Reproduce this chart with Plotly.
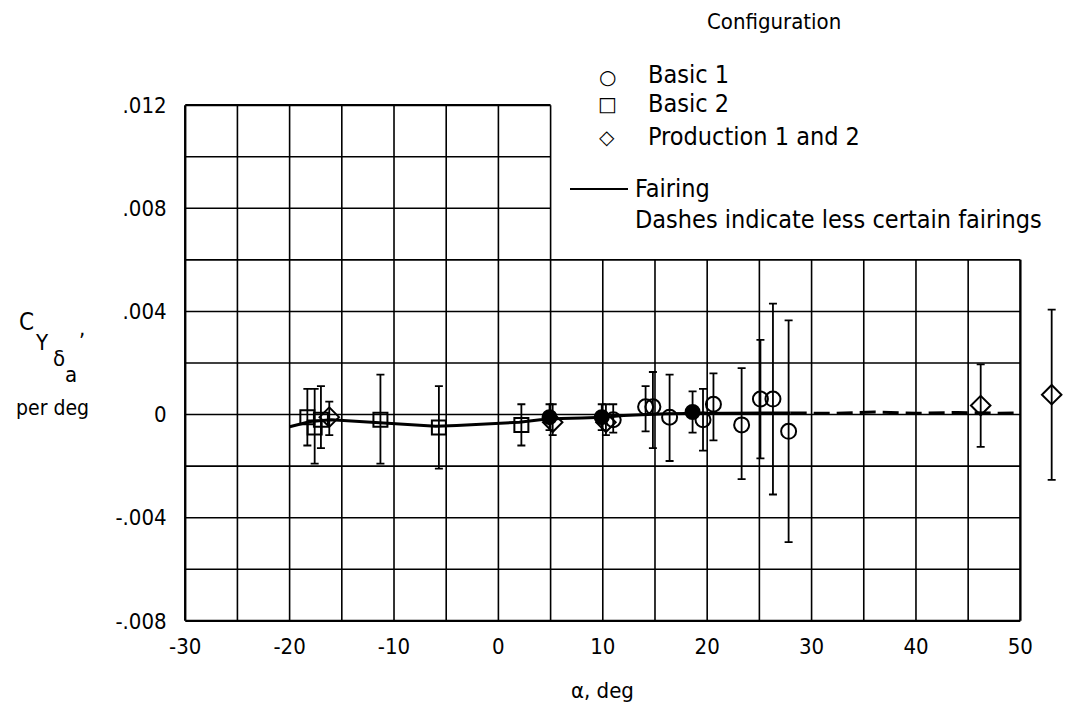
import plotly.graph_objects as go

# ---------------- data ----------------
# Basic 1 (open circles)
b1_alpha = [11.0, 14.1, 14.8, 16.4, 19.6, 20.6, 23.3, 25.1, 26.3, 27.8]
b1_cy = [-0.0002, 0.0003, 0.0003, -0.0001, -0.0002, 0.0004, -0.0004, 0.0006, 0.0006, -0.00065]
b1_plus = [0.0006, 0.0008, 0.00135, 0.00165, 0.0012, 0.0012, 0.0022, 0.0023, 0.0037, 0.0043]
b1_minus = [0.0005, 0.00095, 0.0016, 0.0017, 0.0012, 0.0014, 0.0021, 0.0023, 0.0037, 0.0043]
# Basic 1 points drawn dark (overlapping symbols)
b1d_alpha = [4.9, 9.9, 18.6]
b1d_cy = [-0.0001, -0.0001, 0.0001]
b1d_plus = [0.0005, 0.0005, 0.0008]
b1d_minus = [0.0005, 0.0005, 0.0008]
# Basic 2 (squares)
b2_alpha = [-18.3, -17.6, -17.0, -11.3, -5.7, 2.2]
b2_cy = [-0.0001, -0.0005, -0.0002, -0.0002, -0.0005, -0.0004]
b2_plus = [0.0011, 0.0015, 0.0013, 0.00175, 0.0016, 0.0008]
b2_minus = [0.0011, 0.0014, 0.0011, 0.0017, 0.0016, 0.0008]
# Production 1 and 2 (diamonds)
pr_alpha = [-16.2, 5.2, 10.3, 46.2, 53.0]
pr_cy = [-0.0001, -0.0003, -0.0003, 0.00035, 0.00077]
pr_plus = [0.0006, 0.0007, 0.0007, 0.0016, 0.0033]
pr_minus = [0.0007, 0.0005, 0.0005, 0.0016, 0.0033]
# Fairing (solid part and less certain dashed part)
fair_alpha = [-20, -18, -16, -14, -12, -10, -8, -6, -4, -2, 0, 2, 4, 6, 8, 10,
              12, 14, 16, 18, 20, 22, 24, 26, 28]
fair_cy = [-0.00047, -0.00027, -0.0002, -0.00025, -0.0003, -0.00035, -0.0004,
           -0.00045, -0.00042, -0.00038, -0.00034, -0.0003, -0.0002, -0.00015,
           -0.00013, -0.0001, -0.00004, 0.0, 0.00003, 0.00004, 0.00005,
           0.00006, 0.00006, 0.00006, 0.00006]
dash_alpha = [28, 32, 36, 40, 44, 48, 50]
dash_cy = [0.00006, 0.00005, 0.0001, 0.00005, 0.00008, 0.00005, 0.00007]

x_ticks = [-30, -20, -10, 0, 10, 20, 30, 40, 50]
y_ticks = [-0.008, -0.004, 0.0, 0.004, 0.008, 0.012]
y_ticktext = ["-.008", "-.004", "0", ".004", ".008", ".012"]

# ---------------- layout geometry ----------------
W, H = 1090, 710
L, T = 180, 100
PW, PH = 903, 526
XR = [-30.5, 56.0]
YR = [-0.0082, 0.0122]

def px(x):
    return (x - L) / PW

def py(y):
    return (T + PH - y) / PH

FONT = "DejaVu Sans Condensed"
LFONT = "DejaVu Sans Condensed"

fig = go.Figure()

def err(plus, minus):
    return dict(type="data", array=plus, arrayminus=minus, symmetric=False,
                color="black", thickness=1.8, width=4)

fig.add_trace(go.Scatter(x=fair_alpha, y=fair_cy, mode="lines",
                         line=dict(color="black", width=3), showlegend=False))
fig.add_trace(go.Scatter(x=dash_alpha, y=dash_cy, mode="lines",
                         line=dict(color="black", width=3, dash="16px,7px"),
                         showlegend=False))
fig.add_trace(go.Scatter(x=b2_alpha, y=b2_cy, mode="markers",
                         marker=dict(symbol="square-open", size=14,
                                     color="black", line=dict(width=2)),
                         error_y=err(b2_plus, b2_minus), showlegend=False))
fig.add_trace(go.Scatter(x=pr_alpha, y=pr_cy, mode="markers",
                         marker=dict(symbol="diamond-open", size=15,
                                     color="black", line=dict(width=2)),
                         error_y=err(pr_plus, pr_minus), showlegend=False,
                         cliponaxis=False))
fig.add_trace(go.Scatter(x=b1_alpha, y=b1_cy, mode="markers",
                         marker=dict(symbol="circle-open", size=15,
                                     color="black", line=dict(width=2)),
                         error_y=err(b1_plus, b1_minus), showlegend=False))
fig.add_trace(go.Scatter(x=b1d_alpha, y=b1d_cy, mode="markers",
                         marker=dict(symbol="circle", size=14,
                                     color="black", line=dict(width=2, color="black")),
                         error_y=err(b1d_plus, b1d_minus), showlegend=False))

# ---------------- grid (with legend cut-out) ----------------
shapes = []
for a in range(-30, 51, 5):
    top = 0.012 if a <= 5 else 0.006
    w = 2.4 if a in (-30, 50) else 1.6
    shapes.append(dict(type="line", xref="x", yref="y", x0=a, x1=a,
                       y0=-0.008, y1=top, line=dict(color="black", width=w),
                       layer="below"))
for i in range(11):
    yv = -0.008 + i * 0.002
    right = 50 if yv <= 0.0061 else 5
    w = 2.4 if i in (0, 10) else 1.6
    shapes.append(dict(type="line", xref="x", yref="y", x0=-30, x1=right,
                       y0=yv, y1=yv, line=dict(color="black", width=w),
                       layer="below"))
# legend fairing sample line
shapes.append(dict(type="line", xref="paper", yref="paper",
                   x0=px(570), x1=px(628), y0=py(189), y1=py(189),
                   line=dict(color="black", width=2)))

ann = []
def txt(s, x, y, size, xanchor="left", font=LFONT):
    ann.append(dict(text=s, x=px(x), y=py(y), xref="paper", yref="paper",
                    xanchor=xanchor, yanchor="middle", showarrow=False,
                    font=dict(family=font, size=size, color="black")))

txt("Configuration", 774, 22, 22, "center")
txt("○", 607, 77, 20, "center", "DejaVu Sans")
txt("□", 607, 104, 20, "center", "DejaVu Sans")
txt("◇", 607, 137, 20, "center", "DejaVu Sans")
txt("Basic 1", 646, 75, 25)
txt("Basic 2", 646, 103, 25)
txt("Production 1 and 2", 646, 136, 25)
txt("Fairing", 633, 188, 25)
txt("Dashes indicate less certain fairings", 633, 219, 25)

# y-axis title
txt("C", 26, 322, 24, "center", FONT)
txt("Y", 42, 342, 22, "center", FONT)
txt("δ", 59, 358, 22, "center", FONT)
txt("a", 71, 374, 22, "center", FONT)
txt(",", 82, 328, 22, "center", FONT)
txt("per deg", 52, 408, 21, "center", FONT)
# x-axis title
txt("α, deg", 602, 690, 22, "center", FONT)

fig.update_layout(
    width=W, height=H,
    margin=dict(l=L, r=W - L - PW, t=T, b=H - T - PH, pad=0),
    paper_bgcolor="white", plot_bgcolor="white",
    shapes=shapes, annotations=ann, showlegend=False,
    xaxis=dict(range=XR, tickvals=x_ticks, ticktext=[str(v) for v in x_ticks],
               showgrid=False, zeroline=False, showline=False,
               ticks="outside", ticklen=1, tickcolor="rgba(0,0,0,0)",
               tickfont=dict(family=FONT, size=22, color="black")),
    yaxis=dict(range=YR, tickvals=y_ticks, ticktext=y_ticktext,
               showgrid=False, zeroline=False, showline=False,
               ticks="outside", ticklen=8, tickcolor="rgba(0,0,0,0)",
               tickfont=dict(family=FONT, size=22, color="black")),
)

fig.write_html("out.html")
